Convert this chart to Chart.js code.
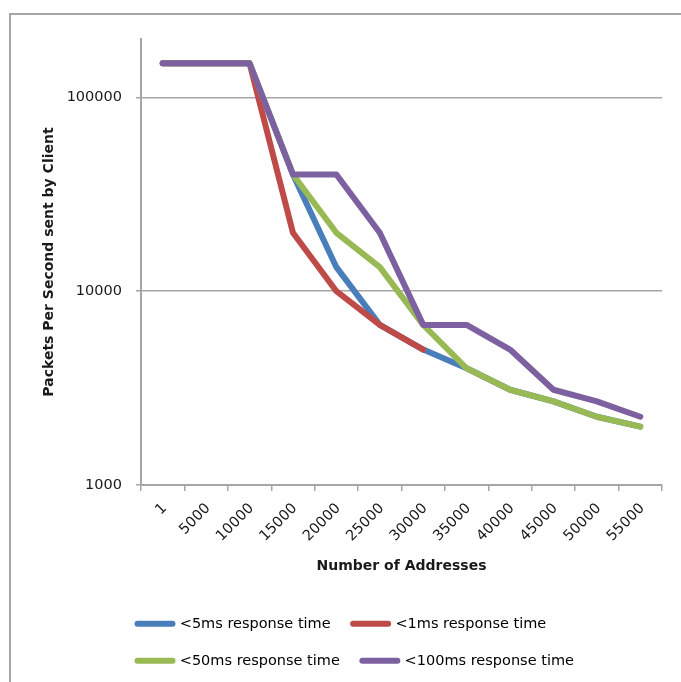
<!DOCTYPE html>
<html>
<head>
<meta charset="utf-8">
<script src="https://cdn.jsdelivr.net/npm/chart.js@4/dist/chart.umd.min.js"></script>
<style>
  html, body { margin: 0; background: #fff; overflow: hidden; width: 681px; height: 682px; }
  .rule { position: absolute; background: #a6a6a6; }
  #top-rule { left: 9px; top: 13px; width: 700px; height: 2px; }
  #left-rule { left: 9px; top: 13px; width: 2px; height: 700px; }
  #chart { position: absolute; left: 11px; top: 15px; display: block; }
</style>
</head>
<body>
<div class="rule" id="top-rule"></div>
<div class="rule" id="left-rule"></div>
<canvas id="chart" width="670" height="667"></canvas>
<script>
var categories = ["1", "5000", "10000", "15000", "20000", "25000", "30000", "35000", "40000", "45000", "50000", "55000"];
var yTicks = [1000, 10000, 100000];

var under5ms = [150000, 150000, 150000, 40000, 13300, 6700, 5000, 4000, 3100, 2700, 2250, 2000];
var under1ms = [150000, 150000, 150000, 20000, 10000, 6700, 5000, null, null, null, null, null];
var under50ms = [150000, 150000, 150000, 40000, 20000, 13300, 6700, 4000, 3100, 2700, 2250, 2000];
var under100ms = [150000, 150000, 150000, 40000, 40000, 20000, 6700, 6700, 5000, 3100, 2700, 2250];

var gridColor = "#a6a6a6";
var textColor = "#1a1a1a";
var fontFamily = "'DejaVu Sans', sans-serif";

function series(label, data, color, order) {
  return {
    label: label,
    data: data,
    borderColor: color,
    backgroundColor: color,
    borderWidth: 6,
    borderCapStyle: "round",
    borderJoinStyle: "round",
    pointRadius: 0,
    tension: 0,
    order: order,
  };
}

// legend sits left-aligned under the plot like the original
var legendPlace = {
  id: "legendPlace",
  afterLayout: function (chart) {
    var lg = chart.legend;
    var h = lg.bottom - lg.top;
    lg.left = 104;
    lg.top = 579;
    lg.bottom = lg.top + h;
  },
};

var ctx = document.getElementById("chart");

new Chart(ctx, {
  type: "line",
  data: {
    labels: categories,
    datasets: [
      series("<5ms response time", under5ms, "#4a7ebb", 3),
      series("<1ms response time", under1ms, "#be4b48", 2),
      series("<50ms response time", under50ms, "#98b954", 1),
      series("<100ms response time", under100ms, "#7d60a0", 0),
    ],
  },
  options: {
    responsive: false,
    animation: false,
    layout: { padding: { top: 24, right: 19, bottom: 23, left: 0 } },
    scales: {
      x: {
        offset: true,
        grid: {
          display: true,
          drawOnChartArea: false,
          drawTicks: true,
          tickLength: 6,
          offset: true,
          color: gridColor,
          lineWidth: 1.5,
        },
        border: { color: gridColor, width: 2 },
        ticks: {
          autoSkip: false,
          minRotation: 45,
          maxRotation: 45,
          padding: 9,
          labelOffset: 2,
          color: textColor,
          font: { family: fontFamily, size: 14.5 },
        },
        title: {
          display: true,
          text: "Number of Addresses",
          color: textColor,
          font: { family: fontFamily, size: 14, weight: "bold" },
          padding: { top: 4, bottom: 0 },
        },
        afterFit: function (scale) {
          scale.height = 90;
        },
      },
      y: {
        type: "logarithmic",
        min: 1000,
        max: 200000,
        afterBuildTicks: function (scale) {
          scale.ticks = yTicks.map(function (v) {
            return { value: v };
          });
        },
        grid: {
          color: gridColor,
          lineWidth: 1.5,
          drawTicks: true,
          tickLength: 5,
        },
        border: { color: gridColor, width: 2 },
        ticks: {
          padding: 14,
          color: textColor,
          font: { family: fontFamily, size: 14.5 },
          callback: function (value) {
            return String(value);
          },
        },
        title: {
          display: true,
          text: "Packets Per Second sent by Client",
          color: textColor,
          font: { family: fontFamily, size: 14, weight: "bold" },
          padding: { top: 30, bottom: 4 },
        },
        afterFit: function (scale) {
          scale.width = 130;
        },
      },
    },
    plugins: {
      tooltip: { enabled: false },
      legend: {
        position: "bottom",
        align: "start",
        labels: {
          usePointStyle: true,
          pointStyleWidth: 35,
          padding: 22.5,
          color: textColor,
          font: { family: fontFamily, size: 14.5 },
          generateLabels: function (chart) {
            return chart.data.datasets.map(function (ds, i) {
              return {
                text: ds.label,
                fillStyle: ds.borderColor,
                strokeStyle: ds.borderColor,
                lineWidth: 6,
                lineCap: "round",
                pointStyle: "line",
                datasetIndex: i,
                hidden: false,
              };
            });
          },
        },
      },
    },
  },
  plugins: [legendPlace],
});
</script>
</body>
</html>
